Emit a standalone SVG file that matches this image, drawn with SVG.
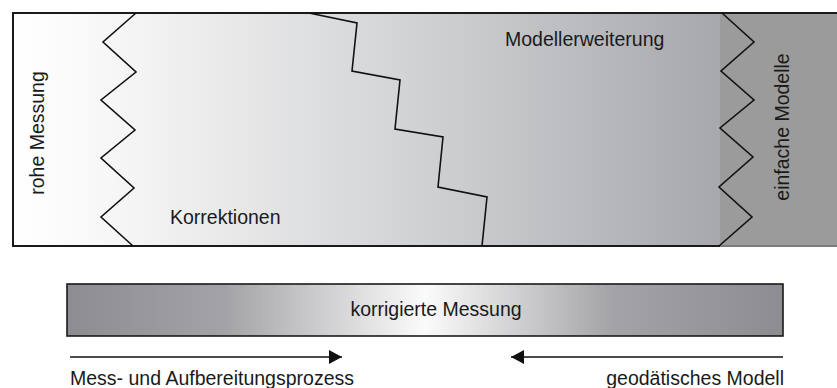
<svg xmlns="http://www.w3.org/2000/svg" width="837" height="388" viewBox="0 0 837 388">
  <style>
    .lbl { font-family: "Liberation Sans", Arial, sans-serif; font-size: 19.5px; fill: #1a1a1a; }
    .edge { fill: none; stroke: #111; stroke-width: 1.6; stroke-linejoin: miter; }
    .frame { stroke: #1a1a1a; stroke-width: 2; fill: none; }
    .conn { stroke: #111; stroke-width: 1.6; fill: none; }
  </style>
  <defs>
    <linearGradient id="mainFill" gradientUnits="userSpaceOnUse" x1="13" y1="0" x2="720" y2="0">
      <stop offset="0" stop-color="#ffffff"/>
      <stop offset="0.15" stop-color="#f6f6f6"/>
      <stop offset="0.55" stop-color="#d3d4d6"/>
      <stop offset="1" stop-color="#a7a8ac"/>
    </linearGradient>
    <linearGradient id="barFill" gradientUnits="userSpaceOnUse" x1="67" y1="0" x2="783" y2="0">
      <stop offset="0" stop-color="#8d8d91"/>
      <stop offset="0.22" stop-color="#a3a3a7"/>
      <stop offset="0.5" stop-color="#fbfbfb"/>
      <stop offset="0.76" stop-color="#a4a4a8"/>
      <stop offset="1" stop-color="#8d8d91"/>
    </linearGradient>
    <marker id="head" markerUnits="userSpaceOnUse" markerWidth="14" markerHeight="14" refX="13" refY="7" orient="auto">
      <path d="M0,0 L13,7 L0,14 Z" fill="#111"/>
    </marker>
  </defs>

  <!-- upper panel: measurement to model -->
  <g id="panel">
    <rect x="13" y="13" width="830" height="233" fill="url(#mainFill)"/>
    <rect x="720" y="13" width="123" height="233" fill="#9b9b9b"/>
    <line x1="12" y1="13" x2="837" y2="13" class="frame"/>
    <line x1="13" y1="12" x2="13" y2="247" class="frame"/>
    <line x1="12" y1="246" x2="720" y2="246" class="frame"/>
    <line x1="720" y1="246" x2="837" y2="246" stroke="#7c7c7c" stroke-width="2"/>
  </g>

  <g id="rohe-messung">
    <text class="lbl" text-anchor="middle" transform="translate(44,133) rotate(-90)">rohe Messung</text>
  </g>

  <g id="korrektionen">
    <polyline class="edge" points="136,13 103,42 136,72 101,100 135,130 101,158 134,188 101,217 133,246"/>
    <text class="lbl" x="170" y="224">Korrektionen</text>
  </g>

  <g id="modellerweiterung">
    <polyline class="edge" points="309,13 357,23 352,71 400,80 395,129 443,137 438,187 487,197 482,246"/>
    <text class="lbl" x="505" y="46">Modellerweiterung</text>
  </g>

  <g id="einfache-modelle">
    <polyline class="edge" points="722,13 754,42 721,71 754,100 720,128 753,157 719,187 752,217 719,246"/>
    <text class="lbl" text-anchor="middle" transform="translate(789,127) rotate(-90)">einfache Modelle</text>
  </g>

  <!-- lower bar -->
  <g id="korrigierte-messung">
    <rect x="67" y="284" width="716" height="52" fill="url(#barFill)" stroke="#1a1a1a" stroke-width="1.6"/>
    <text class="lbl" text-anchor="middle" x="436" y="316">korrigierte Messung</text>
  </g>

  <g id="connectors">
    <line class="conn" x1="70" y1="357" x2="342" y2="357" marker-end="url(#head)"/>
    <line class="conn" x1="783" y1="357" x2="511" y2="357" marker-end="url(#head)"/>
  </g>

  <g id="prozess">
    <text class="lbl" x="70" y="385">Mess- und Aufbereitungsprozess</text>
  </g>
  <g id="geodaetisches-modell">
    <text class="lbl" text-anchor="end" x="784" y="385">geodätisches Modell</text>
  </g>
</svg>
